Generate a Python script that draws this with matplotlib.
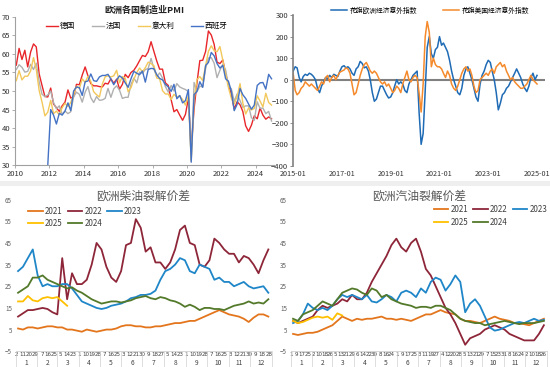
import numpy as np
import pandas as pd
import matplotlib
matplotlib.use("Agg")
import matplotlib.pyplot as plt
import matplotlib.dates as mdates
from matplotlib.patches import Rectangle

plt.rcParams['font.family'] = ['Noto Sans CJK SC', 'DejaVu Sans']

# ---------------- 欧洲各国制造业PMI (bimonthly: Feb, Apr, Jun, Aug, Oct, Dec) ----------------
pmi_dates = pd.date_range('2010-02-01', '2024-12-01', freq='2MS')
pmi_de = [57, 61.5, 58.5, 61, 56.5, 60.5,
          62.7, 61.9, 54.6, 51.5, 48.5, 48.4,
          50.8, 46.5, 45.5, 44.5, 46, 47,
          50.3, 48.1, 48.5, 51.8, 51.7, 54.3,
          56.5, 54.1, 52, 51.4, 51.4, 51.2,
          51.1, 52.1, 51.9, 53.3, 52.1, 53.2,
          50.5, 51.8, 54.5, 53.6, 55, 55.6,
          56.8, 58.2, 59.6, 59.3, 60.6, 63.3,
          60.6, 58.1, 55.9, 55.9, 52.2, 51.5,
          47.6, 44.4, 45, 43.5, 42.1, 43.7,
          48, 34.5, 45.2, 52.2, 58.2, 58.3,
          60.7, 66.2, 65.1, 62.6, 57.8, 57.4,
          58.4, 54.6, 52, 49.1, 45.1, 47.1,
          46.3, 44.5, 40.6, 39.1, 40.8, 43.3,
          42.5, 45.4, 43.5, 42.4, 43, 42.5]
pmi_fr = [55.8, 57.1, 56.4, 55.1, 55.3, 57.2,
          55.8, 57.5, 52.5, 49.1, 48.5, 48.9,
          50, 46.9, 45.2, 46, 43.7, 44.6,
          43.9, 44.4, 48.4, 49.7, 49.1, 47,
          49.7, 51.2, 48.2, 46.9, 48.5, 47.5,
          47.6, 48, 50.7, 48.3, 50.6, 51.4,
          50.2, 48, 48.3, 48.3, 51.8, 53.5,
          52.2, 55.1, 54.8, 55.8, 56.1, 58.8,
          55.9, 53.8, 54.9, 53.5, 51.2, 49.7,
          51.5, 50, 52, 51.1, 50.7, 50.4,
          49.8, 31.5, 52.3, 49.8, 51.3, 51.1,
          56.1, 58.9, 59, 57.5, 53.6, 55.6,
          57.2, 55.7, 51.4, 50.6, 47.2, 49.2,
          47.4, 45.6, 46, 46, 42.8, 42.1,
          47.1, 45.3, 45.4, 43.9, 44.5, 41.9]
pmi_it = [52.8, 55.5, 53, 54, 54, 55.4,
          59, 55.8, 50.1, 47, 43.3, 44.3,
          47.5, 43.9, 44.6, 43.6, 45.5, 46.7,
          45.8, 46.9, 49.1, 51.3, 50.7, 53.3,
          52.3, 54, 52.6, 49.8, 49, 48.4,
          51.9, 53.8, 54.1, 53.8, 54.1, 55.6,
          52.2, 53.9, 53.5, 49.8, 50.9, 53.2,
          55, 56.2, 55.2, 56.3, 57.8, 57.4,
          56.8, 53.5, 53.3, 50.1, 49.2, 49.2,
          47.7, 49.1, 48.4, 48.7, 47.7, 46.2,
          48.7, 31.1, 47.5, 53.1, 53.9, 52.8,
          56.9, 60.7, 62.2, 60.9, 60.6, 62,
          58.3, 54.5, 50.9, 48, 46.5, 48.5,
          52, 46.8, 43.8, 45.4, 44.9, 45.3,
          48.7, 47.3, 45.7, 49.4, 46.9, 46.2]
pmi_es = [np.nan] * 6 + \
         [np.nan, np.nan, np.nan, np.nan, np.nan, 30,
          45, 43.5, 41.1, 44, 43.5, 44.6,
          46.8, 44.7, 50, 51.1, 50.9, 48.8,
          52.5, 52.7, 54.6, 52.8, 52.6, 53.8,
          54.2, 54.2, 54.5, 53.2, 51.7, 53,
          54.1, 53.5, 52.2, 51, 53.3, 55.3,
          54.8, 54.4, 55.4, 52.4, 55.8, 56.1,
          56, 54.4, 53.4, 53, 51.8, 51.1,
          49.9, 51.8, 47.9, 48.8, 46.8, 47.4,
          50.4, 30.8, 49, 49.9, 52.5, 51,
          56.9, 57.7, 60.4, 59.5, 57.4, 56.2,
          56.9, 53.3, 52.6, 49.9, 44.7, 46.4,
          50.7, 49, 48, 46.5, 45.1, 46.2,
          51.5, 52.2, 52.3, 50.5, 54.5, 53.3]
pmi_names = ['德国', '法国', '意大利', '西班牙']
pmi_colors = ['#E8262A', '#B0B0B0', '#F2C85B', '#4472C4']

# ---------------- 花旗经济意外指数 (monthly, 2015-01 .. 2025-01) ----------------
cesi_dates = pd.date_range('2015-01-01', '2025-01-01', freq='MS')
cesi_eu = [40, 60, 55, 10, -10, 15, 25, 20, 30, 25, 15, 0,
           -40, -60, -30, -10, 10, 5, 20, 10, 25, 20, 15, 40,
           60, 65, 55, 60, 50, 30, 20, 50, 60, 85, 75, 55,
           60, 40, 0, -60, -100, -90, -60, -30, -30, -50, -70, -85,
           -80, -60, -30, 0, -20, -10, -20, -50, -60, -20, 0, 20,
           30, 40, -150, -300, -250, -50, 150, 200, 120, 100, 140, 150,
           200, 160, 170, 150, 130, 90, 40, 0, -30, -60, -70, -40,
           20, 50, 60, 30, 0, -40, -80, -100, -20, 20, 40, 70,
           90, 80, 40, 0, -60, -140, -110, -70, -60, -40, -30, -10,
           10, 30, 50, 30, 10, -20, -40, -55, -30, 10, 30, 0,
           20]
cesi_us = [30, -50, -70, -60, -40, -30, -10, -20, -30, -20, -30, -40,
           -50, -30, -10, -20, 10, 20, -10, 10, 20, 0, 20, 35,
           40, 45, 55, 50, 30, -20, -70, -60, -20, 20, 50, 70,
           80, 60, 40, 30, 40, 30, 10, -10, -20, -10, -30, -20,
           -40, -60, -50, -30, -40, -60, -20, 10, 40, 0, -10, 10,
           20, 10, -60, -150, -20, 200, 270, 220, 60, 100, 70, 60,
           60, 50, 30, 10, 40, 20, -20, -40, -50, -30, 0, 30,
           50, 60, 40, 50, 20, -30, -60, -50, 0, 10, 20, 30,
           20, 40, 50, 30, 60, 70, 80, 60, 70, 40, 20, 0,
           10, -10, -20, -30, -40, -40, -30, -20, 0, 20, 0, -10,
           -20]
cesi_names = ['花旗欧洲经济意外指数', '花旗美国经济意外指数']
cesi_colors = ['#1F6BB5', '#F58A2C']
cesi_ticks = ['2015-01', '2017-01', '2019-01', '2021-01', '2023-01', '2025-01']

# ---------------- 欧洲柴油 / 汽油裂解价差 (weekly) ----------------
years = ['2021', '2022', '2023', '2025', '2024']
crack_colors = ['#E3761D', '#8E2639', '#1F86C8', '#FFC000', '#53792A']
legend_order = ['2021', '2025', '2022', '2024', '2023']

diesel = {
    '2021': [5.5, 5, 6, 6, 5.5, 6, 6.5, 6.5, 6, 6, 5, 5, 4.5, 4, 5, 4.5, 4, 4.5, 5, 5,
             5.5, 6.5, 7, 7, 6.5, 6.5, 6, 6, 6.5, 6.5, 7, 7.5, 8, 8, 8.5, 9, 9, 10, 11, 12,
             13, 14, 13, 12, 11.5, 11, 10, 8.5, 10.5, 12, 12, 11],
    '2022': [11, 12.5, 14, 14, 14.5, 15, 14.5, 13, 12, 38, 19, 31, 26, 26, 28, 35, 45, 42, 34, 29,
             27, 32, 44, 45, 56, 52, 41, 43, 36, 36, 33, 36, 42, 51, 53, 45, 44, 35, 34, 37,
             47, 45, 42, 40, 40, 36, 39, 38, 35, 31, 37, 42],
    '2023': [32, 34, 38, 42, 30, 25, 26, 25, 25, 26, 26, 24, 21, 18, 17, 16, 15, 14.5, 15, 16,
             16.5, 17, 18, 19.5, 20, 21, 21, 21.5, 23, 28, 32, 33, 35, 38, 37, 32, 31, 35, 34, 33,
             28, 29, 27, 27, 25, 26, 27, 25, 24, 24.5, 25, 22],
    '2025': [18, 18, 20.5, 18.5, 18, 19.5, 20, 19.5, 20, 18, 16],
    '2024': [22, 23.5, 25, 29, 29, 30, 28, 27, 26, 25, 24, 24.5, 23, 22, 20.5, 19, 18, 17, 17.5, 18,
             18, 17.5, 18, 18.5, 19.5, 20, 20.5, 19.5, 19, 20, 19.5, 18.5, 18, 17, 15.5, 16.5, 15.5, 14, 15, 15,
             14.5, 14.5, 14, 15, 16, 16.5, 17, 18, 17, 17.5, 17, 19],
}
gasoline = {
    '2021': [3, 2.5, 3, 3.5, 3.5, 4, 5, 6, 7, 9, 11, 10, 9, 10, 9.5, 10, 10, 10.5, 11, 10,
             10, 9.5, 10, 9.5, 9, 10, 11, 12, 12, 13, 14, 13, 12.5, 12, 10, 9, 9, 8.5, 8, 9,
             10, 11, 10, 9.5, 9, 8, 8, 7.5, 7, 8, 9, 10],
    '2022': [9, 8, 9, 10, 11, 14, 16, 15, 16, 17, 19, 18, 21, 19, 19, 22, 27, 31, 35, 39,
             44, 47, 43, 41, 45, 47, 41, 33, 30, 25, 20, 15, 12, 8, 3, -2, 1, 2, 3, 5,
             6, 7, 6, 5, 3, 2, 1, 0, 0, 0, 3, 7],
    '2023': [8, 9, 12, 17, 15, 14, 15, 14, 16, 19, 21, 20, 21, 20, 19, 21, 18, 17.5, 19, 21,
             20, 18, 22, 23, 22, 20, 24, 22, 27, 29, 28, 23, 26, 30, 27, 13, 17, 19, 16, 11,
             6, 4.5, 5, 6, 7, 8, 8.5, 8, 9, 10, 9, 9.5],
    '2025': [9, 8, 8.5, 9.5, 10.5, 11, 10.5, 11, 9.5, 12.5, 11.5],
    '2024': [10, 9, 12, 13, 14, 16, 18, 17, 16, 19, 22, 23, 24, 23.5, 22, 21, 24, 23, 20, 21,
             19, 18, 17, 16.5, 16, 15, 15.5, 15.5, 15, 16, 16, 15, 14, 12, 10, 9, 8.5, 8, 8, 7,
             7.5, 8, 8.5, 9, 8.5, 8, 7.5, 8, 8, 8, 8.5, 9],
}

diesel_tick_days = [[2, 11, 20, 29], [7, 16, 25], [5, 14, 23], [1, 10, 19, 28], [7, 16, 25],
                    [3, 12, 21, 30], [9, 18, 27], [5, 14, 23], [1, 10, 19, 28], [7, 16, 25],
                    [3, 12, 21, 30], [9, 18, 28]]
gasoline_tick_days = [[1, 9, 17, 25], [2, 10, 18, 26], [5, 13, 21, 29], [6, 14, 22, 30], [8, 16, 24],
                      [1, 9, 17, 25], [3, 11, 19, 27], [4, 12, 20, 28], [5, 13, 21, 29], [7, 15, 23, 31],
                      [8, 16, 24], [2, 10, 18, 26]]

fig = plt.figure(figsize=(5.5, 3.67), dpi=100)
fig.patch.set_facecolor('white')
fig.add_artist(Rectangle((0, 0.493), 1, 0.014, transform=fig.transFigure,
                         facecolor='#EFEFEF', edgecolor='none'))

# ---- top-left: PMI ----
ax1 = fig.add_axes([0.027, 0.550, 0.471, 0.404])
for vals, name, c in zip([pmi_de, pmi_fr, pmi_it, pmi_es], pmi_names, pmi_colors):
    ax1.plot(pmi_dates, vals, color=c, lw=1.0, label=name)
ax1.set_ylim(30, 70)
ax1.set_xlim(pd.Timestamp('2010-01-01'), pd.Timestamp('2025-01-20'))
ax1.set_yticks(range(30, 71, 5))
ax1.xaxis.set_major_locator(mdates.YearLocator(2))
ax1.xaxis.set_major_formatter(mdates.DateFormatter('%Y'))
for s in ['top', 'right']:
    ax1.spines[s].set_visible(False)
for s in ['left', 'bottom']:
    ax1.spines[s].set_color('#A0A0A0')
    ax1.spines[s].set_linewidth(0.8)
ax1.tick_params(labelsize=5.5, length=2, width=0.6, color='#A0A0A0', pad=1.5, labelcolor='#333333')
ax1.set_title('欧洲各国制造业PMI', fontsize=6.5, fontweight='bold', pad=3, color='#222222')
ax1.legend(ncol=4, loc='upper left', bbox_to_anchor=(0.10, 1.0), frameon=False, fontsize=5.5,
           handlelength=1.6, columnspacing=2.2, handletextpad=0.2, borderaxespad=0.3)

# ---- top-right: 经济意外指数 ----
ax2 = fig.add_axes([0.533, 0.548, 0.458, 0.411])
ax2.axhline(0, color='#808080', lw=1.5, zorder=1)
for vals, name, c in zip([cesi_eu, cesi_us], cesi_names, cesi_colors):
    ax2.plot(cesi_dates, vals, color=c, lw=1.1, label=name, zorder=2)
ax2.set_ylim(-400, 300)
ax2.set_yticks(range(-400, 301, 100))
ax2.set_xlim(pd.Timestamp('2015-01-01'), pd.Timestamp('2025-05-01'))
ax2.set_xticks(pd.to_datetime(cesi_ticks))
ax2.set_xticklabels(cesi_ticks)
for s in ['top', 'right', 'bottom']:
    ax2.spines[s].set_visible(False)
ax2.spines['left'].set_color('#808080')
ax2.spines['left'].set_linewidth(1.2)
ax2.tick_params(axis='y', labelsize=5.5, length=2, width=0.6, color='#808080', pad=1.5, labelcolor='#333333')
ax2.tick_params(axis='x', labelsize=5.2, length=0, pad=3, labelcolor='#333333')
ax2.legend(ncol=2, loc='lower left', bbox_to_anchor=(0.14, 0.985), frameon=False, fontsize=4.9,
           handlelength=2.3, columnspacing=3.8, handletextpad=0.4, borderaxespad=0)


# ---- bottom panels: crack spreads ----
def crack_panel(ax, data, tick_days, title, legend_pos):
    lines = {}
    for y, c in zip(years, crack_colors):
        vals = data[y]
        x = pd.date_range('2021-01-04', periods=len(vals), freq='7D').dayofyear
        lines[y], = ax.plot(x, vals, color=c, lw=1.3, label=y)
    ax.set_ylim(-5, 65)
    ax.set_yticks(range(-5, 66, 10))
    ax.set_xlim(1, 365)
    ticks, labels = [], []
    for m, days in enumerate(tick_days, start=1):
        for d in days:
            ticks.append(pd.Timestamp(2021, m, d).dayofyear)
            labels.append(str(d))
    ax.set_xticks(ticks)
    ax.set_xticklabels(labels, family='Liberation Sans Narrow')
    ax.tick_params(axis='x', labelsize=4.0, length=0, pad=0.8, labelcolor='#404040')
    ax.tick_params(axis='y', labelsize=4.5, length=0, pad=3, labelcolor='#606060')
    for s in ['top', 'right', 'left']:
        ax.spines[s].set_visible(False)
    ax.spines['bottom'].set_color('#D0D0D0')
    ax.spines['bottom'].set_linewidth(0.6)
    trans = ax.get_xaxis_transform()
    for m in range(1, 13):
        start = pd.Timestamp(2021, m, 1).dayofyear - 0.5
        end = (pd.Timestamp(2021, m, 1) + pd.offsets.MonthEnd(0)).dayofyear + 0.5
        ax.text((start + end) / 2, -0.077, str(m), transform=trans, ha='center', va='center',
                fontsize=4.8, color='#404040')
        ax.plot([start, start], [0, -0.11], transform=trans, color='#D0D0D0', lw=0.5, clip_on=False)
    ax.plot([365.5, 365.5], [0, -0.11], transform=trans, color='#D0D0D0', lw=0.5, clip_on=False)
    ax.text(0.5, 1.02, title, transform=ax.transAxes, ha='center', va='center',
            fontsize=8.5, color='#595959')
    ax.legend([lines[y] for y in legend_order], legend_order, ncol=3, loc='upper left',
              bbox_to_anchor=legend_pos, frameon=False, fontsize=5.8, borderaxespad=0,
              handlelength=1.8, columnspacing=0.6, handletextpad=0.3, labelspacing=0.45,
              labelcolor='#404040')


ax3 = fig.add_axes([0.029, 0.043, 0.464, 0.413])
crack_panel(ax3, diesel, diesel_tick_days, '欧洲柴油裂解价差', (0.035, 0.975))
ax4 = fig.add_axes([0.529, 0.043, 0.465, 0.413])
crack_panel(ax4, gasoline, gasoline_tick_days, '欧洲汽油裂解价差', (0.545, 0.985))

fig.savefig('out.png', dpi=100, facecolor='white')
